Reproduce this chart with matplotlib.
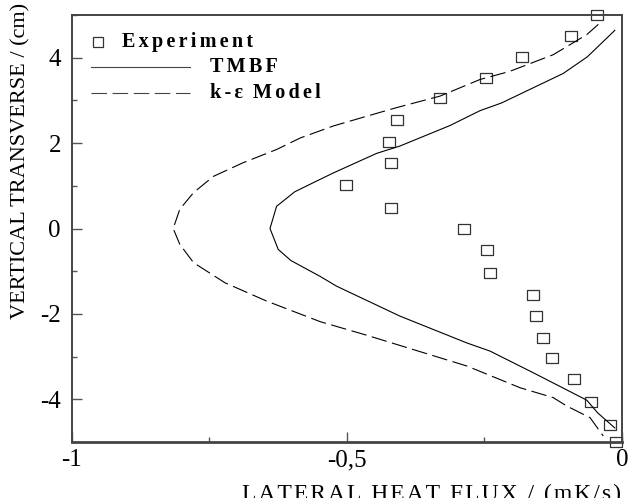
import matplotlib
matplotlib.use("Agg")
import matplotlib.pyplot as plt
from matplotlib.ticker import MultipleLocator

plt.rcParams['font.family'] = ['Liberation Serif', 'DejaVu Serif']

# experiment points (lateral heat flux, vertical position)
exp_flux = [-0.045, -0.092, -0.182, -0.247, -0.33, -0.409, -0.424, -0.42, -0.502, -0.42,
            -0.288, -0.245, -0.24, -0.162, -0.157, -0.143, -0.127, -0.087, -0.056, -0.022, -0.011]
exp_y = [5.0, 4.5, 4.02, 3.53, 3.05, 2.54, 2.02, 1.54, 1.02, 0.48,
         0.0, -0.5, -1.04, -1.56, -2.04, -2.56, -3.03, -3.52, -4.07, -4.59, -5.0]

# TMBF model
tmbf_flux = [-0.013, -0.063, -0.107, -0.219, -0.258, -0.313, -0.404, -0.446, -0.525, -0.549,
             -0.595, -0.628, -0.640, -0.625, -0.602, -0.549, -0.519, -0.404, -0.282, -0.240,
             -0.161, -0.064, -0.044, -0.013]
tmbf_y = [4.64, 4.02, 3.63, 2.94, 2.76, 2.41, 1.93, 1.76, 1.30, 1.15,
          0.86, 0.52, 0.0, -0.49, -0.75, -1.12, -1.35, -2.05, -2.68, -2.87,
          -3.38, -4.02, -4.32, -4.67]

# k-epsilon model
ke_flux = [-0.043, -0.064, -0.125, -0.204, -0.258, -0.331, -0.410, -0.464, -0.525, -0.585,
           -0.628, -0.689, -0.743, -0.779, -0.804, -0.816, -0.804, -0.779, -0.722, -0.646,
           -0.549, -0.464, -0.282, -0.185, -0.125, -0.100, -0.058, -0.034]
ke_y = [4.78, 4.54, 4.07, 3.68, 3.49, 3.10, 2.83, 2.63, 2.40, 2.12,
        1.85, 1.54, 1.22, 0.84, 0.45, 0.0, -0.37, -0.80, -1.27, -1.70,
        -2.18, -2.50, -3.22, -3.73, -3.96, -4.16, -4.43, -4.86]

xticks = [-1, -0.5, 0]
xtick_labels = ['-1', '-0,5', '0']
yticks = [-4, -2, 0, 2, 4]
ytick_labels = ['-4', '-2', '0', '2', '4']

fig = plt.figure(figsize=(6.31, 4.98), dpi=100)
ax = fig.add_axes([0.1141, 0.1124, 0.8716, 0.8575])

box = [(-1.25, -1), (1.25, -1), (1.25, 1), (-1.25, 1), (-1.25, -1)]
ax.plot(exp_flux, exp_y, linestyle='none', marker=box, markersize=9,
        markerfacecolor='none', markeredgecolor='#333333', markeredgewidth=0.9, clip_on=False)
ax.plot(tmbf_flux, tmbf_y, color='black', lw=0.8)
ax.plot(ke_flux, ke_y, color='black', lw=0.8, dashes=(14, 5))

ax.set_xlim(-1, 0)
ax.set_ylim(-5, 5)
ax.set_xticks(xticks)
ax.set_xticklabels(xtick_labels)
ax.set_yticks(yticks)
ax.set_yticklabels(ytick_labels)
ax.xaxis.set_minor_locator(MultipleLocator(0.25))
ax.yaxis.set_minor_locator(MultipleLocator(1))
ax.tick_params(which='both', direction='in', color='#555555', labelsize=18,
               top=False, right=False)
ax.tick_params(which='major', length=7, width=1)
ax.tick_params(which='minor', length=3.5, width=1)
ax.tick_params(axis='y', pad=8)
ax.tick_params(axis='x', pad=5)
for s in ax.spines.values():
    s.set_color('#444444')
    s.set_linewidth(1.4)
ax.spines['bottom'].set_linewidth(2)

# hand-drawn legend, in axes coordinates
tr = ax.transAxes
def ax_pt(px, py):
    return ((px - 72) / 550.0, (442 - py) / 427.0)

def spaced(s):
    return '\u200a\u200a'.join(s)

mx, my = ax_pt(98, 42)
ax.plot([mx], [my], transform=tr, linestyle='none', marker='s', markersize=7,
        markerfacecolor='none', markeredgecolor='#333333', markeredgewidth=0.9)
tx, ty = ax_pt(122, 42)
ax.text(tx, ty, spaced('Experiment'), transform=tr, fontsize=14.5, fontweight='bold',
        va='center', ha='left')
x0, ly = ax_pt(91, 67)
x1, _ = ax_pt(190, 67)
ax.plot([x0, x1], [ly, ly], transform=tr, color='#444444', lw=0.8)
tx, ty = ax_pt(210, 67)
ax.text(tx, ty, spaced('TMBF'), transform=tr, fontsize=14.5, fontweight='bold',
        va='center', ha='left')
x0, ly = ax_pt(91, 93)
ax.plot([x0, x1], [ly, ly], transform=tr, color='#444444', lw=0.8, dashes=(14, 5))
tx, ty = ax_pt(210, 93)
ax.text(tx, ty, spaced('k-\u03b5') + '  ' + spaced('Model'), transform=tr, fontsize=14.5,
        fontweight='bold', va='center', ha='left')

fig.text(21 / 631.0, 1 - 161 / 498.0, 'VERTICAL TRANSVERSE / (cm)', rotation=90,
         fontsize=16, ha='center', va='center')
xl = '\u200a'.join('LATERAL HEAT FLUX / (mK/s)')
fig.text(431.5 / 631.0, 1 - 484 / 498.0, xl, fontsize=17, ha='center', va='top')

fig.savefig('out.png', dpi=100)
